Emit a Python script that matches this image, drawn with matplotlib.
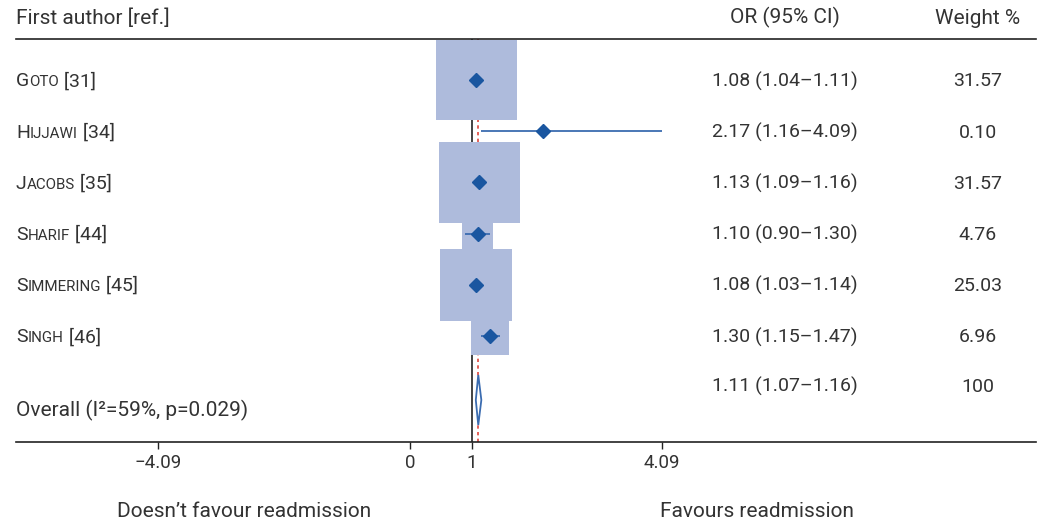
import numpy as np
import matplotlib
matplotlib.use("Agg")
import matplotlib.pyplot as plt
import matplotlib.transforms as mtrans
from matplotlib.patches import Polygon

plt.rcParams['font.family'] = ['Roboto', 'DejaVu Sans']

# study data
authors = ["Goto", "Hijjawi", "Jacobs", "Sharif", "Simmering", "Singh"]
refs = ["31", "34", "35", "44", "45", "46"]
odds = [1.08, 2.17, 1.13, 1.10, 1.08, 1.30]
lo = [1.04, 1.16, 1.09, 0.90, 1.03, 1.15]
hi = [1.11, 4.09, 1.16, 1.30, 1.14, 1.47]
weights = [31.57, 0.10, 31.57, 4.76, 25.03, 6.96]

overall_or, overall_lo, overall_hi = 1.11, 1.07, 1.16
overall_label = "Overall (I²=59%, p=0.029)"

tick_vals = [-4.09, 0, 1, 4.09]
tick_labels = ["\u22124.09", "0", "1", "4.09"]

TXT = "#333333"
BOX = "#aebbdc"
BLUE = "#1a56a0"
LINE = "#3b6cb0"
FS = 14
FS_TICK = 13.5
FS_BIG = 15

fig = plt.figure(figsize=(10.41, 5.21), dpi=100)
W, H = 1041, 521
# axes spans between the top rule (39px) and the x axis (442px)
ax = fig.add_axes([16 / W, 1 - 442 / H, (1036 - 16) / W, (442 - 39) / H])

px_per_unit = 61.5
x0_px = 410
ax.set_xlim((16 - x0_px) / px_per_unit, (1036 - x0_px) / px_per_unit)
row_px = 51.2
ax.set_ylim((442 - 80) / row_px, (39 - 80) / row_px)

for s in ['left', 'right']:
    ax.spines[s].set_visible(False)
for s in ['top', 'bottom']:
    ax.spines[s].set_color('#222222')
    ax.spines[s].set_linewidth(1.2)
ax.set_yticks([])
ax.set_xticks(tick_vals)
ax.set_xticklabels(tick_labels, fontsize=FS_TICK, color=TXT)
ax.tick_params(axis='x', direction='out', length=5, width=1, color='#222222', pad=4)

rows = np.arange(len(authors))
overall_row = 6.25

# reference lines
ax.axvline(1, color='#222222', lw=1.2, zorder=1)
ax.axvline(overall_or, color='#e0453c', lw=1.2, ls=(0, (2, 2)), zorder=1)

# weight boxes (area proportional to weight)
ax.scatter(odds, rows, s=np.array(weights) * 107, marker='s', color=BOX,
           edgecolors='none', zorder=3)
ax.hlines(rows, lo, hi, color=LINE, lw=1.3, zorder=4)
ax.plot(odds, rows, ls='none', marker='D', ms=7.5, color=BLUE, zorder=5)

# pooled estimate diamond
h = 0.49
dia = Polygon([[overall_lo, overall_row], [overall_or, overall_row - h],
               [overall_hi, overall_row], [overall_or, overall_row + h]],
              closed=True, facecolor='white', edgecolor=LINE, lw=1.3, zorder=4)
ax.add_patch(dia)

# text columns (x in figure fraction, y in rows)
tr = mtrans.blended_transform_factory(fig.transFigure, ax.transData)
xl = 16 / W
x_or = 785 / W
x_w = 978 / W
cap = 0.125

ax.text(xl, -1.23 + 0.13, "First author [ref.]", transform=tr, fontsize=FS_BIG,
        color=TXT, va='baseline', ha='left', clip_on=False)
ax.text(x_or, -1.23 + 0.13, "OR (95% CI)", transform=tr, fontsize=FS_BIG,
        color=TXT, va='baseline', ha='center', clip_on=False)
ax.text(x_w, -1.23 + 0.13, "Weight %", transform=tr, fontsize=FS_BIG,
        color=TXT, va='baseline', ha='center', clip_on=False)

for i, (a, r) in enumerate(zip(authors, refs)):
    yb = rows[i] + cap
    t1 = ax.text(xl, yb, a[0], transform=tr, fontsize=FS, color=TXT,
                 va='baseline', ha='left', clip_on=False)
    t2 = ax.annotate(a[1:].upper(), xy=(1, yb), xycoords=(t1, 'data'),
                     fontsize=FS * 0.78, color=TXT, va='baseline', ha='left')
    ax.annotate(" [" + r + "]", xy=(1, yb), xycoords=(t2, 'data'),
                fontsize=FS, color=TXT, va='baseline', ha='left')
    ax.text(x_or, yb, f"{odds[i]:.2f} ({lo[i]:.2f}\u2013{hi[i]:.2f})",
            transform=tr, fontsize=FS, color=TXT, va='baseline', ha='center')
    ax.text(x_w, yb, f"{weights[i]:.2f}", transform=tr, fontsize=FS,
            color=TXT, va='baseline', ha='center')

ax.text(x_or, 5.96 + cap, f"{overall_or:.2f} ({overall_lo:.2f}\u2013{overall_hi:.2f})",
        transform=tr, fontsize=FS, color=TXT, va='baseline', ha='center')
ax.text(x_w, 5.96 + cap, "100", transform=tr, fontsize=FS, color=TXT,
        va='baseline', ha='center')
ax.text(xl, 6.43 + 0.13, overall_label, transform=tr, fontsize=FS_BIG, color=TXT,
        va='baseline', ha='left')

ax.text(244 / W, 8.4 + 0.13, "Doesn\u2019t favour readmission", transform=tr,
        fontsize=FS_BIG, color=TXT, va='baseline', ha='center', clip_on=False)
ax.text(757 / W, 8.4 + 0.13, "Favours readmission", transform=tr,
        fontsize=FS_BIG, color=TXT, va='baseline', ha='center', clip_on=False)

fig.savefig("out.png", dpi=100)
